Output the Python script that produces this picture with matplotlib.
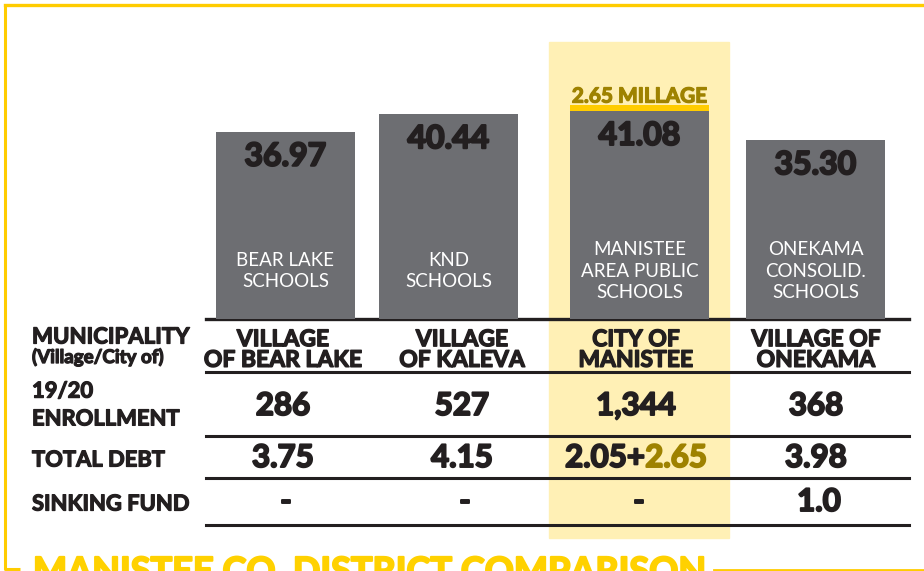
import matplotlib.pyplot as plt
from matplotlib.patches import Rectangle
import matplotlib.patheffects as pe

# data
districts = ['BEAR LAKE\nSCHOOLS', 'KND\nSCHOOLS', 'MANISTEE\nAREA PUBLIC\nSCHOOLS', 'ONEKAMA\nCONSOLID.\nSCHOOLS']
millage = [36.97, 40.44, 41.08, 35.30]
municipalities = ['VILLAGE\nOF BEAR LAKE', 'VILLAGE\nOF KALEVA', 'CITY OF\nMANISTEE', 'VILLAGE OF\nONEKAMA']
enrollment = [286, 527, 1344, 368]
total_debt = [3.75, 4.15, 2.05, 3.98]
extra_debt = [None, None, 2.65, None]
sinking_fund = [None, None, None, 1.0]
extra_millage = 2.65
highlight = 2
title = 'MANISTEE CO. DISTRICT COMPARISON'

# layout (pixels)
W, H = 924, 571
BASE = 319
PX_PER_UNIT = 5.06
bar_x = [285.5, 448.5, 639.5, 815.5]
bar_w = 139
col_x = [283, 462, 636, 816]
row_lines = [372, 436, 478, 525]

GRAY = '#6d6e72'
DARK = '#231f20'
YELLOW = '#ffcc00'
OLIVE = '#9e8200'
PALE = '#fff0b5'
FONT = 'Lato'


def heavy(color, lw=1.1):
    # thicken Lato Bold a little, the original type is a black weight
    return [pe.withStroke(linewidth=lw, foreground=color)]


fig = plt.figure(figsize=(W / 100, H / 100), dpi=100)
bg = fig.add_axes([0, 0, 1, 1])
bg.set_xlim(0, W)
bg.set_ylim(H, 0)
bg.axis('off')

# highlight column and frame
bg.add_patch(Rectangle((549, 42), 180, 496, color=PALE, zorder=0))
bg.plot([5, 5, 20], [4, 569, 569], color=YELLOW, lw=2.2, solid_capstyle='butt')
bg.plot([5, W], [4.5, 4.5], color=YELLOW, lw=2.4)
bg.plot([714, W], [570, 570], color=YELLOW, lw=2)
bg.text(33, 556, title, color='#ffd100', fontsize=26, fontweight='bold',
        family=FONT, ha='left', va='top', path_effects=heavy('#ffd100', 1.5))

# table lines
bg.plot([206, 909], [BASE, BASE], color=DARK, lw=2.4, zorder=3)
for y in row_lines:
    bg.plot([206, 909], [y, y], color=DARK, lw=2.2)

# row labels
lab = dict(color=DARK, family=FONT, fontweight='bold', ha='left', va='center',
           path_effects=heavy(DARK, 0.9))
bg.text(32, 337, 'MUNICIPALITY', fontsize=16, **lab)
bg.text(32, 357, '(Village/City of)', fontsize=13.5, **lab)
bg.text(32, 405, '19/20\nENROLLMENT', fontsize=15.8, linespacing=1.4, **lab)
bg.text(32, 460, 'TOTAL DEBT', fontsize=15.8, **lab)
bg.text(32, 504, 'SINKING FUND', fontsize=15.8, **lab)

val = dict(color=DARK, family=FONT, fontweight='bold', va='center')
fig.canvas.draw()
renderer = fig.canvas.get_renderer()
for i in range(4):
    x = col_x[i]
    bg.text(x, 350, municipalities[i], fontsize=16.5, ha='center',
            linespacing=0.98, path_effects=heavy(DARK, 1.0), **val)
    bg.text(x, 406, f'{enrollment[i]:,}', fontsize=22.5, ha='center',
            path_effects=heavy(DARK, 1.4), **val)
    if extra_debt[i] is None:
        bg.text(x, 458, f'{total_debt[i]:.2f}', fontsize=22.5, ha='center',
                path_effects=heavy(DARK, 1.4), **val)
    else:
        probe = bg.text(0, 0, f'{total_debt[i]:.2f}+{extra_debt[i]:.2f}',
                        fontsize=22.5, **val)
        w_all = probe.get_window_extent(renderer).width
        probe.remove()
        t1 = bg.text(x - w_all / 2, 458, f'{total_debt[i]:.2f}+', fontsize=22.5,
                     ha='left', path_effects=heavy(DARK, 1.4), **val)
        bg.annotate(f'{extra_debt[i]:.2f}', xy=(1, 0.5), xycoords=t1,
                    fontsize=22.5, ha='left', color=OLIVE, family=FONT,
                    fontweight='bold', va='center', path_effects=heavy(OLIVE, 1.4))
    sf = '-' if sinking_fund[i] is None else f'{sinking_fund[i]:.1f}'
    bg.text(x + 3, 502, sf, fontsize=22.5, ha='center', path_effects=heavy(DARK, 1.4), **val)

# bars
ax = fig.add_axes([0, (H - BASE) / H, 1, BASE / H])
ax.set_xlim(0, W)
ax.set_ylim(0, BASE / PX_PER_UNIT)
ax.axis('off')
ax.patch.set_alpha(0)
ax.bar(bar_x, millage, width=bar_w, color=GRAY)
ax.bar(bar_x[highlight], 6 / PX_PER_UNIT, bottom=millage[highlight],
       width=bar_w, color=YELLOW)
for i in range(4):
    ax.annotate(f'{millage[i]:.2f}', xy=(bar_x[i], millage[i]), xytext=(0, -17.5),
                textcoords='offset points', ha='center', va='center',
                fontsize=23, fontweight='bold', family=FONT, color=DARK,
                path_effects=heavy(DARK, 1.5))
    ax.annotate(districts[i], xy=(bar_x[i], 0), xytext=(0, 34.5),
                textcoords='offset points', ha='center', va='center',
                fontsize=13.5, family=FONT, color='white', linespacing=1.3)
ax.annotate(f'{extra_millage:.2f} MILLAGE', xy=(bar_x[highlight], millage[highlight]),
            xytext=(0, 10.5), textcoords='offset points', ha='center', va='center',
            fontsize=15, fontweight='bold', family=FONT, color=OLIVE,
            path_effects=heavy(OLIVE, 0.9))

fig.savefig('out.png', dpi=100)
